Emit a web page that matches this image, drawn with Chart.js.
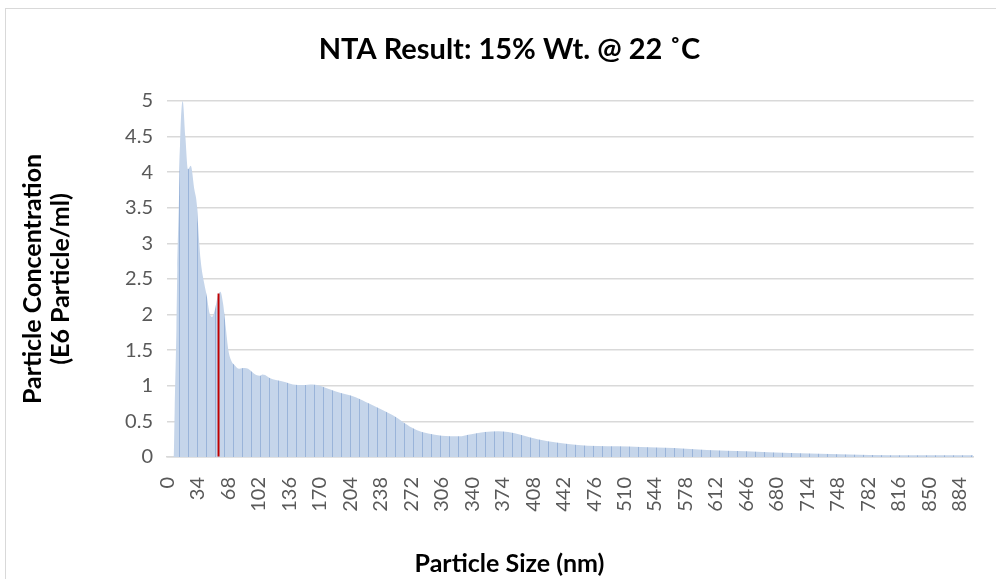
<!DOCTYPE html>
<html>
<head>
<meta charset="utf-8">
<script src="https://cdn.jsdelivr.net/npm/chart.js@4.4.1/dist/chart.umd.min.js"></script>
<style>
    html, body { margin: 0; padding: 0; background: #ffffff; overflow: hidden; }
    #moldura { position: absolute; left: 5px; top: 8px; width: 1200px; height: 800px;
               border-left: 1px solid #d9d9d9; border-top: 1px solid #d9d9d9; }
    #grafico { position: absolute; left: 0; top: 0; }
</style>
</head>
<body>
<div id="moldura"></div>
<canvas id="grafico" width="996" height="579"></canvas>
<script>
// tamanho da particula (nm)
const tamanhos = [0, 7, 8, 10, 11, 13, 14, 17, 20, 23, 26, 30, 33, 34, 37, 41, 44, 47, 50, 53, 56, 59, 62, 65,
    68, 71, 75, 80, 86, 90, 99, 103, 106, 109, 114, 121, 132, 140, 151, 162, 167, 177, 188, 199, 210,
    225, 240, 251, 262, 273, 284, 291, 306, 325, 339, 354, 369, 380, 395, 413, 436, 458, 480, 502,
    528, 565, 602, 646, 695, 739, 783, 832, 899];

// concentracao (E6 particulas/ml)
const concentracao = [0, 0, 0.63, 1.8, 2.63, 3.7, 4.37, 5.0, 4.5, 4.04, 4.09, 3.76, 3.52, 3.29, 2.77, 2.44, 2.25,
    2.02, 1.97, 2.07, 2.25, 2.32, 2.16, 1.83, 1.5, 1.36, 1.29, 1.24, 1.25, 1.24, 1.15, 1.14, 1.16, 1.15,
    1.11, 1.08, 1.05, 1.02, 1.01, 1.02, 1.01, 0.97, 0.92, 0.88, 0.84, 0.75, 0.66, 0.59, 0.5, 0.41, 0.35,
    0.33, 0.3, 0.29, 0.32, 0.35, 0.36, 0.35, 0.31, 0.25, 0.2, 0.17, 0.155, 0.15, 0.14, 0.127, 0.1, 0.08,
    0.056, 0.042, 0.028, 0.023, 0.023];

// barra destacada em vermelho
const destaqueTamanho = [57];
const destaqueValor = [2.29];

const rotulosX = [0, 34, 68, 102, 136, 170, 204, 238, 272, 306, 340, 374, 408, 442, 476, 510, 544,
    578, 612, 646, 680, 714, 748, 782, 816, 850, 884];
const rotulosY = [0, 0.5, 1, 1.5, 2, 2.5, 3, 3.5, 4, 4.5, 5];

const canvas = document.getElementById('grafico');
const ctx = canvas.getContext('2d');

// preenchimento com as linhas verticais das colunas do excel
function criarListras() {
    const c = document.createElement('canvas');
    c.width = 9;
    c.height = 4;
    const g = c.getContext('2d');
    g.fillStyle = '#c5d5ea';
    g.fillRect(0, 0, 9, 4);
    g.fillStyle = '#9ab4d9';
    g.fillRect(8, 0, 1, 4);
    return ctx.createPattern(c, 'repeat');
}

const fonteTexto = { family: 'Lato', size: 20 };
const fonteTitulo = { family: 'Lato', size: 25, weight: 'bold' };

new Chart(ctx, {
    type: 'line',
    data: {
        datasets: [
            {
                type: 'bar',
                data: destaqueTamanho.map((t, i) => ({ x: t, y: destaqueValor[i] })),
                backgroundColor: '#c00000',
                barThickness: 1.3,
                order: 0
            },
            {
                data: tamanhos.map((t, i) => ({ x: t, y: concentracao[i] })),
                fill: 'origin',
                backgroundColor: criarListras(),
                borderWidth: 0,
                pointRadius: 0,
                cubicInterpolationMode: 'monotone',
                order: 1
            }
        ]
    },
    options: {
        responsive: false,
        animation: false,
        layout: { padding: { left: 38, right: 15, top: 0, bottom: 0 } },
        plugins: {
            legend: { display: false },
            tooltip: { enabled: false },
            title: {
                display: true,
                text: 'NTA Result: 15% Wt. @ 22 ˚C',
                color: '#000000',
                font: { family: 'Lato', size: 29, weight: 'bold' },
                padding: { top: 32.6, bottom: 33.6 }
            },
            subtitle: {
                display: true,
                position: 'bottom',
                text: 'Particle Size (nm)',
                color: '#000000',
                font: fonteTitulo,
                padding: { top: 0, bottom: 0 }
            }
        },
        scales: {
            x: {
                type: 'linear',
                min: -0.5,
                max: 899.5,
                offset: false,
                grid: { display: false },
                border: { display: true, color: '#d9d9d9', width: 1.5 },
                afterBuildTicks: (escala) => { escala.ticks = rotulosX.map(v => ({ value: v })); },
                afterFit: (escala) => { escala.height = 92; },
                ticks: {
                    autoSkip: false,
                    minRotation: 90,
                    maxRotation: 90,
                    padding: 12,
                    color: '#595959',
                    font: fonteTexto,
                    callback: (v) => String(v)
                }
            },
            y: {
                min: 0,
                max: 5,
                afterBuildTicks: (escala) => { escala.ticks = rotulosY.map(v => ({ value: v })); },
                afterFit: (escala) => { escala.width = 129; },
                grid: { color: '#d9d9d9', lineWidth: 1.5, drawTicks: false },
                border: { display: false },
                ticks: {
                    padding: 14,
                    color: '#595959',
                    font: fonteTexto,
                    callback: (v) => String(v)
                },
                title: {
                    display: true,
                    text: ['Particle Concentration', '(E6 Particle/ml)'],
                    color: '#000000',
                    font: { family: 'Lato', size: 25, weight: 'bold', lineHeight: 1.1 },
                    padding: { top: -18.75, bottom: 0 }
                }
            }
        }
    }
});
</script>
</body>
</html>
